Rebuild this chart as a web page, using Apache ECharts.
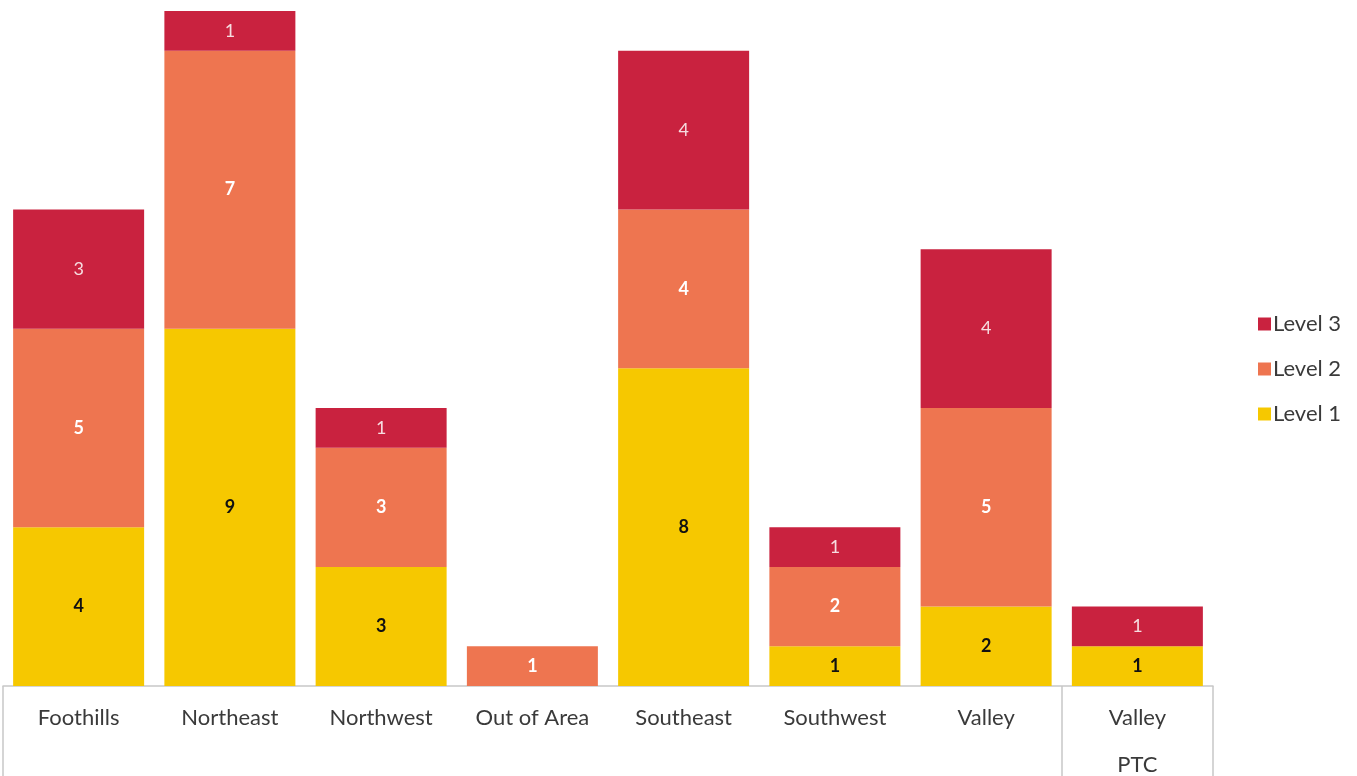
<!DOCTYPE html>
<html>
<head>
<meta charset="utf-8">
<script src="https://cdn.jsdelivr.net/npm/echarts@6/dist/echarts.min.js"></script>
<style>html,body{margin:0;padding:0;background:#fff}#c{width:1357px;height:776px}</style>
</head>
<body>
<div id="c"></div>
<script>
const categories = ['Foothills','Northeast','Northwest','Out of Area','Southeast','Southwest','Valley','Valley\nPTC'];
const level1 = [4, 9, 3, 0, 8, 1, 2, 1];
const level2 = [5, 7, 3, 1, 4, 2, 5, 0];
const level3 = [3, 1, 1, 0, 4, 1, 4, 1];
const seriesNames = ['Level 1','Level 2','Level 3'];

const chart = echarts.init(document.getElementById('c'));
const FONT = 'Lato';
function lbl(color, bold){
  return {show:true, position:'inside', color:color, fontFamily:FONT, fontSize:18, fontWeight:bold?'bold':'normal',
    formatter:p=>p.value?String(p.value):''};
}
chart.setOption({
  animation:false,
  grid:{left:3, right:144, top:11, bottom:90, outerBoundsMode:'none', containLabel:false},
  legend:{
    data:['Level 3','Level 2','Level 1'], orient:'vertical', left:1253, top:308,
    itemWidth:13, itemHeight:13, itemGap:23, icon:'rect',
    textStyle:{fontFamily:FONT, fontSize:22, lineHeight:20, color:'#3a3a3a', padding:[0,0,0,-3]}
  },
  xAxis:{
    type:'category', data:categories,
    axisLine:{lineStyle:{color:'#c8c8c8', width:1.5}},
    axisTick:{show:true, length:90, interval:(i)=>i===0||i===7, lineStyle:{color:'#c8c8c8', width:1.5}},
    axisLabel:{fontFamily:FONT, fontSize:22, color:'#3a3a3a', margin:8, lineHeight:47, interval:0}
  },
  yAxis:{type:'value', min:0, max:17, show:false, splitLine:{show:false}},
  series:[
    {name:seriesNames[0], type:'bar', stack:'t', data:level1, barWidth:131, itemStyle:{color:'#f6c800'}, label:lbl('#111', true)},
    {name:seriesNames[1], type:'bar', stack:'t', data:level2, barWidth:131, itemStyle:{color:'#ee7550'}, label:lbl('#ffffff', true)},
    {name:seriesNames[2], type:'bar', stack:'t', data:level3, barWidth:131, itemStyle:{color:'#c9223f'}, label:lbl('#f6dde0', false)}
  ]
});
</script>
</body>
</html>
